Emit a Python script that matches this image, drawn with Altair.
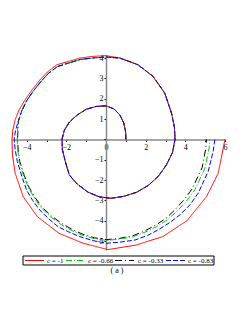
import altair as alt
import pandas as pd

# shared inner part of the spiral (all curves coincide)
common_x = [1.0, 0.99, 0.9, 0.7, 0.4, 0.0, -0.5, -1.0, -1.45, -1.85, -2.1, -2.22, -2.2, -2.05,
            -1.85, -1.45, -0.9, -0.35, 0.25, 0.9, 1.55, 2.15, 2.65, 3.05, 3.35, 3.48, 3.45, 3.3,
            2.96, 2.37, 1.61, 0.7]
common_y = [0.0, 0.35, 0.8, 1.2, 1.5, 1.65, 1.62, 1.48, 1.2, 0.85, 0.45, 0.0, -0.5, -1.1,
            -1.75, -2.2, -2.6, -2.82, -2.9, -2.8, -2.6, -2.25, -1.8, -1.25, -0.65, 0.0, 0.6, 1.3,
            2.28, 3.1, 3.67, 4.0]

# outer part, c = -1
red_x = [0.0, -0.7, -1.31, -1.9, -2.48, -2.95, -3.32, -3.72, -4.08, -4.38, -4.58, -4.7, -4.74,
         -4.72, -4.58, -4.18, -3.46, -2.37, -1.15, 0.1, 1.5, 2.87, 4.08, 5.07, 5.66, 6.0]
red_y = [4.12, 4.08, 4.0, 3.83, 3.67, 3.32, 2.94, 2.45, 1.95, 1.45, 0.97, 0.45, 0.0,
         -0.76, -1.66, -2.81, -3.8, -4.62, -5.11, -5.42, -5.2, -4.78, -4.0, -2.81, -1.66, 0.0]

# upper-left part shared by the other three curves
oth_x = [0.0, -0.7, -1.3, -1.9, -2.45, -2.9, -3.25, -3.65, -4.0, -4.25, -4.42]
oth_y = [4.05, 4.0, 3.93, 3.75, 3.58, 3.25, 2.88, 2.4, 1.9, 1.4, 0.9]

# c = -0.83
blue_x = [-4.56, -4.63, -4.58, -4.47, -4.25, -4.01, -3.7, -3.34, -2.9, -2.42, -1.88, -1.33,
          -0.65, 0.03, 0.75, 1.46, 2.1, 2.63, 3.2, 3.73, 4.25, 4.65, 5.15, 5.4, 5.49]
blue_y = [0.45, 0.0, -0.5, -1.09, -1.8, -2.48, -3.0, -3.47, -3.9, -4.29, -4.55, -4.78,
          -4.98, -5.11, -5.05, -4.95, -4.72, -4.45, -4.1, -3.71, -3.2, -2.64, -1.58, -0.6, 0.0]

# c = -0.66
green_x = [-4.46, -4.48, -4.45, -4.38, -4.15, -3.9, -3.6, -3.26, -2.8, -2.25, -1.75, -1.24,
           -0.6, 0.03, 0.7, 1.38, 2.0, 2.55, 3.1, 3.56, 4.05, 4.48, 4.99, 5.2, 5.24]
green_y = [0.45, 0.0, -0.5, -1.09, -1.8, -2.4, -2.9, -3.38, -3.8, -4.2, -4.47, -4.7,
           -4.88, -4.97, -4.9, -4.78, -4.55, -4.29, -3.95, -3.55, -3.05, -2.48, -1.41, -0.43, 0.0]

# c = -0.33
black_x = [-4.44, -4.46, -4.43, -4.35, -4.12, -3.87, -3.57, -3.22, -2.76, -2.21, -1.72, -1.21,
           -0.58, 0.02, 0.68, 1.35, 1.96, 2.5, 3.03, 3.47, 3.94, 4.35, 4.85, 5.03, 5.07]
black_y = [0.45, 0.0, -0.5, -1.08, -1.78, -2.38, -2.87, -3.34, -3.76, -4.15, -4.42, -4.65,
           -4.84, -4.93, -4.87, -4.74, -4.5, -4.22, -3.88, -3.47, -2.97, -2.42, -1.38, -0.45, 0.0]

labels = ["c = -1", "c = -0.66", "c = -0.33", "c = -0.83"]
colors = ["#ff0000", "#00c800", "#000000", "#0000ff"]
dashes = [[1, 0], [6, 2, 1, 2], [7, 3, 1, 3], [5, 2]]

x_ticks = [-4, -3, -2, -1, 0, 1, 2, 3, 4, 5, 6]
y_ticks = [-5, -4.5, -4, -3.5, -3, -2.5, -2, -1.5, -1, -0.5, 0, 0.5, 1, 1.5, 2, 2.5, 3, 3.5, 4]

series_x = [common_x + red_x, common_x + oth_x + green_x,
            common_x + oth_x + black_x, common_x + oth_x + blue_x]
series_y = [common_y + red_y, common_y + oth_y + green_y,
            common_y + oth_y + black_y, common_y + oth_y + blue_y]

XMIN, XMAX = -4.74, 6.0
YMIN, YMAX = -5.44, 4.15
W, H = 213, 195
x0 = (0 - XMIN) / (XMAX - XMIN) * W
y0 = (YMAX - 0) / (YMAX - YMIN) * H

FONT = "Liberation Serif"

xenc = alt.X("x:Q", scale=alt.Scale(domain=[XMIN, XMAX], nice=False, zero=False),
             axis=alt.Axis(orient="bottom", offset=-(H - y0), values=x_ticks, format="d",
                           labelExpr="datum.value % 2 == 0 ? datum.label : ''",
                           title=None, grid=False, domainColor="#888888", domainWidth=1.5,
                           tickColor="black", tickSize=2, labelPadding=2, labelFlush=False,
                           labelOverlap=False, labelFont=FONT, labelFontSize=8,
                           labelColor="black"))
yenc = alt.Y("y:Q", scale=alt.Scale(domain=[YMIN, YMAX], nice=False, zero=False),
             axis=alt.Axis(orient="left", offset=-x0, values=y_ticks, format="d",
                           labelExpr="(datum.value != 0 && datum.value % 1 == 0) ? datum.label : ''",
                           title=None, grid=False, domainColor="#888888", domainWidth=1.5,
                           tickColor="black", tickSize=2, labelPadding=1, labelFlush=False,
                           labelOverlap=False, labelFont=FONT, labelFontSize=8,
                           labelColor="black"))

# draw order: black, green, red, then blue on top
layers = []
for k in [2, 1, 0, 3]:
    d = pd.DataFrame({"x": series_x[k], "y": series_y[k], "i": range(len(series_x[k]))})
    layers.append(
        alt.Chart(d).mark_line(strokeWidth=1, color=colors[k], strokeDash=dashes[k]).encode(
            x=xenc, y=yenc, order=alt.Order("i:Q"))
    )

# legend box (pixel positions inside the plot frame)
one = pd.DataFrame({"t": [""]})
legend_layers = [
    alt.Chart(one).mark_rect(fill="white", stroke="black", strokeWidth=1).encode(
        x=alt.value(11), x2=alt.value(202), y=alt.value(201), y2=alt.value(210))
]
sample_x = [13, 54, 103, 154]
label_x = [35, 76, 126, 176]
for k, lab in enumerate(labels):
    legend_layers.append(
        alt.Chart(one).mark_rule(color=colors[k], strokeDash=dashes[k], strokeWidth=1.2).encode(
            x=alt.value(sample_x[k]), x2=alt.value(sample_x[k] + 19), y=alt.value(205.5))
    )
    legend_layers.append(
        alt.Chart(pd.DataFrame({"t": [lab]})).mark_text(
            font=FONT, fontSize=7, color="black", align="left", baseline="middle"
        ).encode(text="t:N", x=alt.value(label_x[k]), y=alt.value(205.5))
    )

caption = alt.Chart(pd.DataFrame({"t": ["( a )"]})).mark_text(
    font=FONT, fontSize=8, color="black", align="center", baseline="middle"
).encode(text="t:N", x=alt.value(105), y=alt.value(216))

chart = alt.layer(*layers, *legend_layers, caption).properties(
    width=W, height=H,
    padding={"left": 4, "top": 47, "right": 8, "bottom": 30},
    autosize=alt.AutoSizeParams(type="none"),
).configure_view(stroke="transparent")

chart.save("out.html", embed_options={"renderer": "svg", "actions": False})
